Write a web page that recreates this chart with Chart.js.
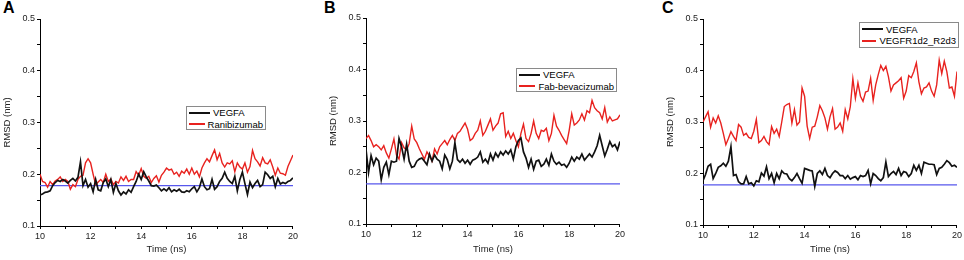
<!DOCTYPE html>
<html>
<head>
<meta charset="utf-8">
<script src="https://cdn.jsdelivr.net/npm/chart.js@4.4.0/dist/chart.umd.min.js"></script>
<style>
  body { margin: 0; background: #fff; width: 964px; height: 260px; overflow: hidden; position: relative;
         font-family: "Liberation Sans", Arial, sans-serif; }
  canvas { position: absolute; top: 0; }
  .tag { position: absolute; top: -1px; font-weight: bold; font-size: 16px; color: #000; }
  .legend { position: absolute; border: 1px solid #8a8a8a; background: #fff; box-sizing: border-box;
            font-size: 9.5px; color: #000; padding: 0 2px; }
  .legend .row { display: flex; align-items: center; height: 11.5px; white-space: nowrap; }
  .legend .swatch { display: inline-block; width: 21px; height: 0; border-top: 2px solid; margin-right: 3px; }
</style>
</head>
<body>
<div class="tag" style="left:3px">A</div>
<div class="tag" style="left:324px">B</div>
<div class="tag" style="left:662px">C</div>
<canvas id="chartA"></canvas>
<canvas id="chartB"></canvas>
<canvas id="chartC"></canvas>

<script>
// time axis: 10 to 20 ns, one frame every 0.1 ns
const timeStart = 10;
const timeStep = 0.1;
const frameCount = 101;
const timeNs = [];
for (let i = 0; i < frameCount; i++) timeNs.push(+(timeStart + i * timeStep).toFixed(1));

// reference level (blue line)
const refLevel = 0.178;
const refSpan = [10, 20];

// panel A
const vegfaA = [
  0.160,0.162,0.165,0.166,0.168,0.178,0.184,0.188,0.186,0.190,
  0.187,0.183,0.188,0.192,0.187,0.194,0.224,0.178,0.190,0.175,
  0.182,0.166,0.190,0.170,0.168,0.184,0.191,0.176,0.190,0.165,
  0.182,0.168,0.160,0.166,0.162,0.170,0.165,0.176,0.186,0.200,
  0.190,0.205,0.195,0.187,0.178,0.177,0.179,0.174,0.168,0.172,
  0.168,0.174,0.166,0.170,0.167,0.171,0.166,0.165,0.168,0.166,
  0.172,0.176,0.166,0.174,0.191,0.176,0.170,0.172,0.190,0.171,
  0.176,0.186,0.192,0.204,0.192,0.186,0.182,0.196,0.168,0.190,
  0.204,0.182,0.161,0.185,0.174,0.182,0.188,0.176,0.180,0.204,
  0.199,0.192,0.196,0.176,0.192,0.181,0.184,0.182,0.186,0.188,
  0.193
];
const ranibizumab = [
  0.200,0.186,0.184,0.175,0.186,0.180,0.187,0.190,0.195,0.186,
  0.190,0.186,0.171,0.180,0.176,0.190,0.196,0.198,0.222,0.230,
  0.222,0.200,0.180,0.185,0.190,0.184,0.200,0.186,0.191,0.180,
  0.186,0.183,0.195,0.188,0.196,0.186,0.190,0.190,0.205,0.198,
  0.211,0.196,0.192,0.196,0.184,0.192,0.197,0.185,0.198,0.204,
  0.212,0.208,0.210,0.200,0.204,0.196,0.206,0.202,0.210,0.200,
  0.212,0.200,0.206,0.195,0.212,0.222,0.230,0.224,0.236,0.247,
  0.228,0.240,0.222,0.214,0.222,0.220,0.226,0.205,0.222,0.214,
  0.210,0.222,0.204,0.215,0.246,0.230,0.224,0.216,0.232,0.222,
  0.220,0.228,0.214,0.198,0.212,0.202,0.201,0.198,0.215,0.226,
  0.237
];

// panel B
const vegfaB = [
  0.245,0.200,0.233,0.215,0.228,0.222,0.186,0.210,0.220,0.196,
  0.222,0.220,0.222,0.266,0.250,0.226,0.255,0.222,0.210,0.212,
  0.222,0.226,0.228,0.222,0.215,0.236,0.222,0.234,0.226,0.222,
  0.207,0.234,0.225,0.207,0.222,0.258,0.225,0.220,0.226,0.218,
  0.224,0.216,0.224,0.226,0.230,0.240,0.220,0.226,0.218,0.236,
  0.224,0.238,0.230,0.240,0.234,0.242,0.236,0.244,0.226,0.250,
  0.262,0.267,0.240,0.228,0.210,0.226,0.206,0.222,0.224,0.212,
  0.216,0.226,0.214,0.236,0.222,0.216,0.220,0.214,0.216,0.210,
  0.218,0.230,0.222,0.230,0.226,0.236,0.224,0.230,0.236,0.230,
  0.240,0.252,0.272,0.252,0.232,0.245,0.260,0.250,0.254,0.244,
  0.260
];
const fabBevacizumab = [
  0.266,0.272,0.262,0.250,0.254,0.250,0.244,0.252,0.238,0.228,
  0.246,0.265,0.234,0.226,0.258,0.248,0.244,0.256,0.290,0.265,
  0.258,0.246,0.236,0.226,0.240,0.232,0.222,0.246,0.236,0.250,
  0.256,0.262,0.254,0.264,0.272,0.262,0.276,0.280,0.288,0.296,
  0.284,0.262,0.266,0.276,0.282,0.300,0.272,0.280,0.292,0.304,
  0.282,0.290,0.296,0.314,0.316,0.270,0.280,0.266,0.276,0.262,
  0.250,0.276,0.294,0.266,0.260,0.276,0.300,0.276,0.266,0.282,
  0.280,0.286,0.262,0.276,0.311,0.290,0.282,0.272,0.264,0.256,
  0.282,0.314,0.292,0.296,0.302,0.314,0.302,0.320,0.316,0.340,
  0.326,0.320,0.316,0.304,0.326,0.298,0.308,0.300,0.302,0.304,
  0.312
];

// panel C
const vegfaC = [
  0.186,0.198,0.214,0.218,0.190,0.200,0.212,0.215,0.220,0.214,
  0.224,0.252,0.196,0.198,0.184,0.180,0.180,0.194,0.180,0.182,
  0.176,0.186,0.184,0.201,0.195,0.213,0.190,0.200,0.182,0.200,
  0.190,0.205,0.200,0.199,0.190,0.186,0.192,0.200,0.190,0.181,
  0.210,0.208,0.206,0.205,0.175,0.200,0.205,0.198,0.210,0.196,
  0.192,0.200,0.205,0.202,0.196,0.196,0.190,0.196,0.189,0.192,
  0.194,0.188,0.196,0.194,0.196,0.206,0.180,0.200,0.196,0.190,
  0.186,0.192,0.222,0.194,0.200,0.204,0.198,0.210,0.196,0.204,
  0.202,0.194,0.200,0.216,0.206,0.216,0.200,0.222,0.220,0.218,
  0.218,0.217,0.198,0.210,0.212,0.218,0.225,0.221,0.214,0.216,
  0.212
];
const vegfr1d2R2d3 = [
  0.300,0.310,0.320,0.290,0.308,0.298,0.312,0.298,0.278,0.256,
  0.268,0.281,0.272,0.264,0.295,0.290,0.274,0.278,0.270,0.268,
  0.282,0.305,0.260,0.264,0.272,0.262,0.256,0.291,0.278,0.286,
  0.272,0.300,0.330,0.334,0.336,0.298,0.324,0.294,0.300,0.366,
  0.350,0.292,0.268,0.290,0.292,0.310,0.332,0.322,0.308,0.286,
  0.310,0.326,0.286,0.290,0.298,0.282,0.324,0.306,0.330,0.384,
  0.346,0.376,0.350,0.340,0.358,0.360,0.385,0.342,0.372,0.392,
  0.410,0.400,0.408,0.388,0.360,0.372,0.376,0.380,0.386,0.346,
  0.360,0.390,0.386,0.398,0.415,0.378,0.355,0.366,0.368,0.376,
  0.360,0.350,0.372,0.420,0.394,0.418,0.398,0.366,0.368,0.350,
  0.398
];

const xTickStep = 1;
const yTickStep = 0.05;

const BLACK = "#111111";
const RED = "#e8221f";
const BLUE = "#5757ec";
const FONT = "'Liberation Sans', Arial, sans-serif";

// plot box of each panel in page pixels
const panels = [
  { canvas: "chartA", name: "Ranibizumab", vegfa: vegfaA, other: ranibizumab,
    plot: { left: 40, right: 294, top: 19, bottom: 226 },
    legend: { left: 186, top: 106, width: 80, height: 24 } },
  { canvas: "chartB", name: "Fab-bevacizumab", vegfa: vegfaB, other: fabBevacizumab,
    plot: { left: 366, right: 621, top: 18, bottom: 224 },
    legend: { left: 516, top: 68, width: 101, height: 24 } },
  { canvas: "chartC", name: "VEGFR1d2_R2d3", vegfa: vegfaC, other: vegfr1d2R2d3,
    plot: { left: 703, right: 958, top: 19, bottom: 225 },
    legend: { left: 859, top: 22, width: 100, height: 26 } }
];

const Y_AXIS_W = 40;
const RIGHT_PAD = 6;
const H = 260;

function drawPanel(p) {
  const canvas = document.getElementById(p.canvas);
  const w = p.plot.right - p.plot.left + Y_AXIS_W + RIGHT_PAD;
  canvas.width = w;
  canvas.height = H;
  canvas.style.left = (p.plot.left - Y_AXIS_W) + "px";
  canvas.style.width = w + "px";
  canvas.style.height = H + "px";

  new Chart(canvas.getContext("2d"), {
    type: "line",
    data: {
      labels: timeNs,
      datasets: [
        { label: "VEGFA", data: p.vegfa, borderColor: BLACK, borderWidth: 1.7, pointRadius: 0, tension: 0 },
        { label: p.name, data: p.other, borderColor: RED, borderWidth: 1.4, pointRadius: 0, tension: 0 },
        { label: "ref", data: refSpan.map(x => ({ x: x, y: refLevel })), borderColor: BLUE, borderWidth: 1.1, pointRadius: 0 }
      ]
    },
    options: {
      responsive: false,
      animation: false,
      devicePixelRatio: 1,
      layout: { padding: { top: p.plot.top, right: RIGHT_PAD, bottom: 0, left: 0 } },
      plugins: { legend: { display: false }, tooltip: { enabled: false } },
      scales: {
        x: {
          type: "linear", min: 10, max: 20,
          ticks: {
            stepSize: xTickStep, autoSkip: false, maxRotation: 0, padding: 2,
            color: "#222", font: { family: FONT, size: 9 },
            callback: v => (Math.round(v) % 2 === 0 ? String(Math.round(v)) : "")
          },
          grid: { drawOnChartArea: false, tickLength: 3, color: "#000" },
          border: { color: "#000", width: 1 },
          title: { display: true, text: "Time (ns)", color: "#222",
                   font: { family: FONT, size: 9.5 }, padding: { top: 0, bottom: 4.5 } },
          afterFit: s => { s.height = H - p.plot.bottom; }
        },
        y: {
          min: 0.1, max: 0.5,
          ticks: {
            stepSize: yTickStep, autoSkip: false, padding: 2,
            color: "#222", font: { family: FONT, size: 9 },
            callback: v => (Math.abs(v * 10 - Math.round(v * 10)) < 1e-6 ? (Math.round(v * 10) / 10).toFixed(1) : "")
          },
          grid: { drawOnChartArea: false, tickLength: 3, color: "#000" },
          border: { color: "#000", width: 1 },
          title: { display: true, text: "RMSD (nm)", color: "#222",
                   font: { family: FONT, size: 9.5 }, padding: { top: 1.5, bottom: 0 } },
          afterFit: s => { s.width = Y_AXIS_W; }
        }
      }
    }
  });

  // legend box inside the plot
  const lg = document.createElement("div");
  lg.className = "legend";
  lg.style.left = p.legend.left + "px";
  lg.style.top = p.legend.top + "px";
  lg.style.width = p.legend.width + "px";
  lg.style.height = p.legend.height + "px";
  lg.style.paddingTop = ((p.legend.height - 2 - 23) / 2) + "px";
  [["VEGFA", BLACK], [p.name, RED]].forEach(([text, color]) => {
    const row = document.createElement("div");
    row.className = "row";
    const sw = document.createElement("span");
    sw.className = "swatch";
    sw.style.borderTopColor = color;
    row.appendChild(sw);
    row.appendChild(document.createTextNode(text));
    lg.appendChild(row);
  });
  document.body.appendChild(lg);
}

panels.forEach(drawPanel);
</script>
</body>
</html>
